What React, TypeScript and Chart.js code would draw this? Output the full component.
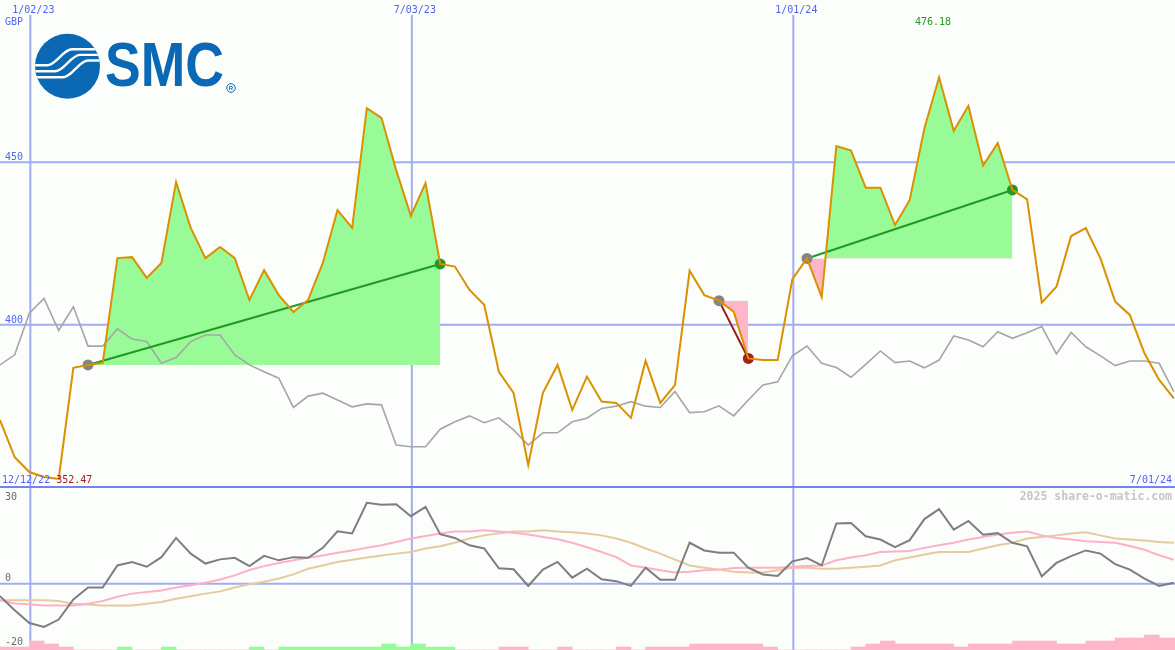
import React, { useEffect, useRef } from 'react';
import { Chart, registerables } from 'chart.js';

Chart.register(...registerables);

// ---- data (weekly points, index 0 = first week on the chart) ----
const price = [
  370.6, 359.2, 354.6, 353.1, 352.47, 386.7, 387.6, 388.2, 420.5, 420.8,
  414.4, 419.0, 443.9, 429.8, 420.5, 423.9, 420.5, 407.6, 416.8, 409.1,
  403.9, 407.6, 419.0, 435.3, 429.8, 466.7, 463.7, 447.6, 433.5, 443.6,
  418.7, 417.9, 410.7, 406.1, 385.5, 379.0, 356.8, 379.0, 387.6, 373.7,
  384.0, 376.3, 375.9, 371.3, 388.9, 375.9, 381.4, 416.6, 409.1, 407.4,
  404.0, 389.6, 389.1, 389.1, 414.0, 420.4, 408.5, 455.0, 453.6, 442.2,
  442.2, 430.7, 438.4, 460.5, 476.18, 459.7, 467.4, 449.0, 455.9, 441.5,
  438.6, 406.8, 411.7, 427.3, 429.7, 420.4, 407.1, 403.0, 391.2, 383.0,
  377.3,
];

const relative = [
  387.6, 390.7, 403.5, 408.1, 398.2, 405.5, 393.4, 393.4, 398.7, 395.6,
  394.8, 388.1, 389.9, 394.8, 396.8, 396.8, 390.7, 387.6, 385.5, 383.5,
  374.5, 378.0, 378.9, 376.8, 374.7, 375.6, 375.3, 362.9, 362.4, 362.4,
  367.8, 370.1, 371.9, 369.8, 371.3, 367.6, 362.9, 366.7, 366.7, 370.1,
  371.2, 374.2, 374.9, 376.3, 374.9, 374.5, 379.4, 372.9, 373.2, 375.0,
  371.9, 376.8, 381.4, 382.4, 390.4, 393.4, 388.1, 386.8, 383.8, 387.8,
  391.9, 388.3, 388.8, 386.7, 389.1, 396.5, 395.3, 393.2, 397.8, 395.8,
  397.5, 399.4, 391.0, 397.6, 393.2, 390.4, 387.4, 388.8, 388.8, 388.1,
  379.4,
];

const momentum = [
  -3.9, -8.3, -12.3, -13.5, -11.2, -4.9, -1.2, -1.2, 5.7, 6.8,
  5.3, 8.3, 14.3, 9.4, 6.3, 7.6, 8.1, 5.5, 8.7, 7.3,
  8.3, 8.1, 11.2, 16.4, 15.7, 25.3, 24.7, 24.8, 21.1, 24.0,
  15.5, 14.3, 12.0, 11.0, 4.8, 4.5, -0.7, 4.4, 6.8, 1.9,
  4.7, 1.4, 0.8, -0.7, 5.0, 1.2, 1.2, 12.8, 10.4, 9.7,
  9.7, 5.0, 2.9, 2.4, 7.0, 8.0, 5.7, 18.8, 19.0, 14.8,
  13.8, 11.4, 13.6, 20.2, 23.3, 16.9, 19.6, 15.3, 15.8, 12.8,
  11.7, 2.3, 6.5, 8.6, 10.4, 9.4, 6.1, 4.4, 1.6, -0.7,
  0.3,
];

const avgFast = [
  -5.2, -6.2, -6.4, -6.8, -6.8, -6.8, -6.3, -5.4, -4.1, -3.1,
  -2.6, -2.1, -1.2, -0.5, 0.3, 1.3, 2.6, 4.3, 5.5, 6.5,
  7.3, 8.1, 8.8, 9.7, 10.4, 11.2, 12.0, 13.0, 14.1, 14.9,
  15.7, 16.3, 16.3, 16.7, 16.3, 15.9, 15.4, 14.6, 13.9, 12.8,
  11.4, 9.9, 8.3, 5.7, 5.0, 4.2, 3.5, 3.7, 4.2, 4.4,
  4.9, 5.0, 5.0, 5.0, 5.3, 5.5, 5.7, 7.3, 8.2, 8.9,
  9.9, 10.1, 10.2, 11.2, 12.0, 12.8, 13.8, 14.6, 15.4, 15.9,
  16.3, 15.1, 14.3, 13.8, 13.3, 13.0, 12.8, 11.8, 10.6, 8.9,
  7.5,
];

const avgSlow = [
  -5.2, -5.2, -5.2, -5.2, -5.4, -6.3, -6.5, -6.8, -6.8, -6.8,
  -6.3, -5.7, -4.7, -3.9, -3.1, -2.4, -1.2, -0.2, 0.6, 1.6,
  2.9, 4.7, 5.7, 6.8, 7.5, 8.2, 8.8, 9.4, 9.9, 11.0,
  11.7, 12.8, 14.1, 15.1, 15.8, 16.3, 16.3, 16.7, 16.3, 16.1,
  15.7, 15.1, 14.1, 12.8, 11.0, 9.4, 7.5, 5.7, 5.0, 4.4,
  3.7, 3.5, 3.5, 4.2, 5.0, 5.0, 4.7, 4.7, 5.0, 5.3,
  5.7, 7.3, 8.2, 9.1, 9.9, 9.9, 9.9, 11.0, 12.0, 12.8,
  14.1, 14.6, 15.1, 15.7, 16.1, 15.1, 14.1, 13.8, 13.5, 13.0,
  12.8,
];

const histogram = [
  -1, -1, -3, -2, -1, 0, 0, 0, 1, 0,
  0, 1, 0, 0, 0, 0, 0, 1, 0, 1,
  1, 1, 1, 1, 1, 1, 2, 1, 2, 1,
  1, 0, 0, 0, -1, -1, 0, 0, -1, 0,
  0, 0, -1, 0, -1, -1, -1, -2, -2, -2,
  -2, -2, -1, 0, 0, 0, 0, 0, -1, -2,
  -3, -2, -2, -2, -2, -1, -2, -2, -2, -3,
  -3, -3, -2, -2, -3, -3, -4, -4, -5, -4,
  -4,
];

const tradeStart = [6, 49, 55];
const tradeEnd = [30, 51, 69];

const dateTickWeeks = [2, 28, 54];
const dateTickLabels = ['1/02/23', '7/03/23', '1/01/24'];
const priceGridValues = [400, 450];
const oscTickValues = [30, 0, -20];
const startDateLabel = '12/12/22';
const endDateLabel = '7/01/24';
const currencyLabel = 'GBP';
const watermark = '2025 share-o-matic.com';
const logoText = 'SMC';

// ---- styles ----
const W = 1175;
const H = 650;
const BG = '#FBFEFB';
const GRID = '#A3ABF2';
const SEP = '#7383F2';
const LABEL_BLUE = '#4F63F0';
const ORANGE = '#DA9100';
const GREEN = '#229922';
const RED = '#9E1A1A';
const FILL_GREEN = '#98FB98';
const FILL_PINK = '#FFB6C8';
const MONO = '"DejaVu Sans Mono", "Liberation Mono", monospace';

const pts = (arr: number[], from = 0, to = arr.length - 1) =>
  arr.slice(from, to + 1).map((v, i) => ({ x: from + i, y: v }));

function drawLogo(ctx: CanvasRenderingContext2D) {
  const blue = '#0B68B5';
  ctx.save();
  ctx.fillStyle = blue;
  ctx.beginPath();
  ctx.arc(67.5, 66.2, 32.5, 0, Math.PI * 2);
  ctx.fill();
  ctx.clip();
  ctx.strokeStyle = BG;
  ctx.lineWidth = 2.4;
  const yL = [65.3, 71.3, 77.2];
  const yR = [49.3, 54.9, 60.5];
  const x0 = [47, 55, 63];
  for (let i = 0; i < 3; i++) {
    const a = x0[i];
    const b = a + 25;
    ctx.beginPath();
    ctx.moveTo(30, yL[i]);
    ctx.lineTo(a, yL[i]);
    ctx.bezierCurveTo(a + 9, yL[i], b - 9, yR[i], b, yR[i]);
    ctx.lineTo(105, yR[i]);
    ctx.stroke();
  }
  ctx.restore();

  ctx.save();
  ctx.fillStyle = blue;
  ctx.font = 'bold 63px "Liberation Sans", Arial, sans-serif';
  ctx.textAlign = 'left';
  ctx.textBaseline = 'alphabetic';
  ctx.fillText(logoText, 105, 85.5, 119);
  ctx.strokeStyle = blue;
  ctx.lineWidth = 1;
  ctx.beginPath();
  ctx.arc(231, 88, 4.3, 0, Math.PI * 2);
  ctx.stroke();
  ctx.font = 'bold 6px "Liberation Sans", Arial, sans-serif';
  ctx.textAlign = 'center';
  ctx.textBaseline = 'middle';
  ctx.fillText('R', 231, 88.3);
  ctx.restore();
}

const decorPlugin = {
  id: 'decor',
  beforeDraw(chart: any) {
    const ctx = chart.ctx as CanvasRenderingContext2D;
    ctx.save();
    ctx.fillStyle = BG;
    ctx.fillRect(0, 0, chart.width, chart.height);
    ctx.restore();
  },
  beforeDatasetsDraw(chart: any) {
    const ctx = chart.ctx as CanvasRenderingContext2D;
    const { x, y, y2 } = chart.scales;
    ctx.save();
    ctx.lineWidth = 2;
    ctx.strokeStyle = GRID;
    priceGridValues.forEach((v) => {
      const py = y.getPixelForValue(v);
      ctx.beginPath();
      ctx.moveTo(0, py);
      ctx.lineTo(W, py);
      ctx.stroke();
    });
    const pz = y2.getPixelForValue(0);
    ctx.beginPath();
    ctx.moveTo(0, pz);
    ctx.lineTo(W, pz);
    ctx.stroke();
    dateTickWeeks.forEach((w) => {
      const px = x.getPixelForValue(w) + 1;
      ctx.beginPath();
      ctx.moveTo(px, 15);
      ctx.lineTo(px, H);
      ctx.stroke();
    });
    const sep = y.getPixelForValue(350);
    ctx.strokeStyle = SEP;
    ctx.beginPath();
    ctx.moveTo(0, sep);
    ctx.lineTo(W, sep);
    ctx.stroke();
    ctx.restore();
  },
  afterDatasetsDraw(chart: any) {
    const ctx = chart.ctx as CanvasRenderingContext2D;
    const { x, y, y2 } = chart.scales;
    const sep = y.getPixelForValue(350);
    ctx.save();
    ctx.font = '10px ' + MONO;
    ctx.textBaseline = 'alphabetic';

    ctx.fillStyle = LABEL_BLUE;
    ctx.textAlign = 'center';
    dateTickWeeks.forEach((w, i) => {
      ctx.fillText(dateTickLabels[i], x.getPixelForValue(w) + 4, 12.5);
    });
    ctx.textAlign = 'left';
    ctx.fillText(currencyLabel, 5, 25);
    priceGridValues.forEach((v) => {
      ctx.fillText(String(v), 5, y.getPixelForValue(v) - 2);
    });

    const maxV = Math.max(...price);
    const maxI = price.indexOf(maxV);
    ctx.fillStyle = GREEN;
    ctx.textAlign = 'center';
    ctx.fillText(maxV.toFixed(2), x.getPixelForValue(maxI) - 6, 25);

    const minV = Math.min(...price);
    ctx.textAlign = 'left';
    ctx.fillStyle = LABEL_BLUE;
    ctx.fillText(startDateLabel, 2, sep - 4);
    const off = ctx.measureText(startDateLabel + ' ').width;
    ctx.fillStyle = '#A81818';
    ctx.fillText(minV.toFixed(2), 2 + off, sep - 4);
    ctx.textAlign = 'right';
    ctx.fillStyle = LABEL_BLUE;
    ctx.fillText(endDateLabel, W - 3, sep - 4);

    ctx.textAlign = 'left';
    ctx.fillStyle = '#6A6A6A';
    oscTickValues.forEach((v) => {
      const py = Math.max(y2.getPixelForValue(v) - 2.4, sep + 12.7);
      ctx.fillText(String(v), 5, py);
    });

    ctx.font = 'bold 11.5px ' + MONO;
    ctx.fillStyle = '#C6C6C6';
    ctx.textAlign = 'right';
    ctx.fillText(watermark, W - 3, sep + 13);
    ctx.restore();

    drawLogo(ctx);
  },
};

export default function App() {
  const ref = useRef<HTMLCanvasElement>(null);

  useEffect(() => {
    if (!ref.current) return;
    const tradeFills = tradeStart.map((s, t) => ({
      type: 'line' as const,
      data: pts(price, s, tradeEnd[t]),
      yAxisID: 'y',
      borderWidth: 0,
      pointRadius: 0,
      fill: { target: { value: price[s] }, above: FILL_GREEN, below: FILL_PINK },
      order: 10,
    }));
    const tradeLines = tradeStart.map((s, t) => {
      const e = tradeEnd[t];
      const win = price[e] >= price[s];
      return {
        type: 'line' as const,
        data: [
          { x: s, y: price[s] },
          { x: e, y: price[e] },
        ],
        yAxisID: 'y',
        borderColor: win ? GREEN : RED,
        borderWidth: 2,
        pointRadius: 5.5,
        pointBorderWidth: 0,
        pointBackgroundColor: ['#858585', win ? GREEN : '#A81C1C'],
        fill: false,
        order: 5,
      };
    });

    const chart = new Chart(ref.current, {
      type: 'line',
      data: {
        datasets: [
          ...tradeFills,
          {
            type: 'line',
            data: pts(relative),
            yAxisID: 'y',
            borderColor: '#A6A6A6',
            borderWidth: 1.6,
            pointRadius: 0,
            fill: false,
            order: 8,
          },
          ...tradeLines,
          {
            type: 'line',
            data: pts(price),
            yAxisID: 'y',
            borderColor: ORANGE,
            borderWidth: 2,
            pointRadius: 0,
            fill: false,
            order: 1,
          },
          {
            type: 'bar',
            data: histogram.map((v, i) => ({ x: i + 0.5, y: Math.abs(v) })),
            yAxisID: 'y3',
            backgroundColor: histogram.map((v) => (v > 0 ? FILL_GREEN : FILL_PINK)),
            borderWidth: 0,
            barPercentage: 1,
            categoryPercentage: 1,
            order: 20,
          },
          {
            type: 'line',
            data: pts(avgSlow),
            yAxisID: 'y2',
            borderColor: '#E6CB9C',
            borderWidth: 2,
            pointRadius: 0,
            fill: false,
            order: 4,
          },
          {
            type: 'line',
            data: pts(avgFast),
            yAxisID: 'y2',
            borderColor: '#FFB0C8',
            borderWidth: 2,
            pointRadius: 0,
            fill: false,
            order: 3,
          },
          {
            type: 'line',
            data: pts(momentum),
            yAxisID: 'y2',
            borderColor: '#7E7E7E',
            borderWidth: 2,
            pointRadius: 0,
            fill: false,
            order: 2,
          },
        ] as any,
      },
      options: {
        responsive: false,
        maintainAspectRatio: false,
        animation: false,
        devicePixelRatio: 1,
        events: [],
        layout: { padding: 0, autoPadding: false },
        plugins: {
          legend: { display: false },
          tooltip: { enabled: false },
        },
        scales: {
          x: { type: 'linear', min: 0, max: W / 14.673, display: false, offset: false },
          y: { type: 'linear', min: 500 - H / (487 / 150), max: 500, display: false },
          y2: { type: 'linear', min: -(H - 583.7) / 3.2, max: 583.7 / 3.2, display: false },
          y3: { type: 'linear', min: 0, max: H / 3, display: false },
        },
      } as any,
      plugins: [decorPlugin],
    });
    return () => chart.destroy();
  }, []);

  return (
    <div style={{ position: 'absolute', left: 0, top: 0, width: W, height: H }}>
      <canvas ref={ref} width={W} height={H} style={{ display: 'block', width: W, height: H }} />
    </div>
  );
}
